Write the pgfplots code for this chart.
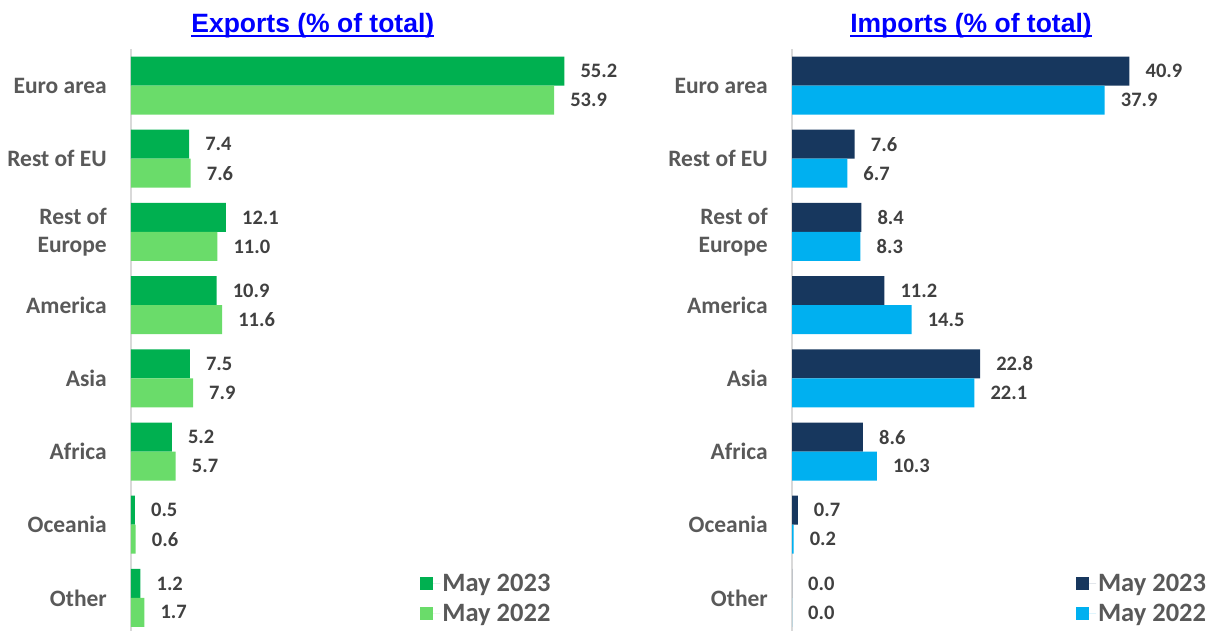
\documentclass[border=0pt]{standalone}
\usepackage{pgfplots}
\pgfplotsset{compat=1.18}
\usepackage{fontspec}
\setmainfont{Carlito}
\newfontfamily\arialf{Liberation Sans}
\definecolor{dgreen}{HTML}{00B050}
\definecolor{lgreen}{HTML}{6ADC6A}
\definecolor{navy}{HTML}{17375E}
\definecolor{cyan2}{HTML}{00B0F0}
\definecolor{lbl}{HTML}{595959}
\definecolor{val}{HTML}{404040}
\definecolor{ttl}{HTML}{0000FF}
\newcommand\ul[1]{\setbox0\hbox{#1}\rlap{\color{ttl}\rule[-4pt]{\wd0}{2.3pt}}\box0}
\pgfplotsset{
  common/.style={
    scale only axis, height=585.6pt,
    xbar, bar width=29pt,
    xmin=0, ymin=-0.5, ymax=7.5,
    axis x line=none, axis y line*=left,
    y axis line style={draw=black!15, line width=1.3pt, -},
    xtick=\empty,
    ytick={0,...,7},
    yticklabels={Other,Oceania,Africa,Asia,America,{Rest of\\Europe},Rest of EU,Euro area},
    major tick length=0pt,
    yticklabel style={font=\fontsize{23.5}{28}\selectfont\bfseries, text=lbl, align=right, inner sep=0pt, xshift=-24pt},
    clip=false,
    /pgf/number format/assume math mode=true,
    nodes near coords,
    nodes near coords style={font=\fontsize{20.5}{24}\selectfont\bfseries, text=val, anchor=west, inner sep=0pt, xshift=16pt,
      /pgf/number format/.cd, fixed, fixed zerofill, precision=1},
    legend style={draw=none, fill=none, font=\fontsize{26.5}{30}\selectfont\bfseries, text=lbl, inner sep=0pt,
      row sep=7pt, anchor=north west, legend cell align=left},
    legend image code/.code={\fill[##1,draw=none] (0pt,-6.5pt) rectangle (13pt,6.5pt); \path (0pt,0pt) -- (20pt,0pt);},
    title style={font=\arialf\fontsize{26.5}{30}\selectfont\bfseries, text=ttl, anchor=base},
  }
}
\begin{document}
\begin{tikzpicture}
\useasboundingbox (0,0) rectangle (1211pt,630pt);
\begin{axis}[common, at={(131pt,-4.5pt)}, anchor=south west, width=471pt, xmax=60,
  title={\ul{Exports (\% of total)}}, title style={at={(0.386,1)}, yshift=10pt},
  legend style={at={(0.614,0.107)}}]
\addplot[fill=dgreen, draw=none, bar shift=14.5pt] coordinates {(55.2,7) (7.4,6) (12.1,5) (10.9,4) (7.5,3) (5.2,2) (0.5,1) (1.2,0)};
\addplot[fill=lgreen, draw=none, bar shift=-14.5pt] coordinates {(53.9,7) (7.6,6) (11.0,5) (11.6,4) (7.9,3) (5.7,2) (0.6,1) (1.7,0)};
\legend{May 2023, May 2022}
\end{axis}
\begin{axis}[common, at={(792pt,-4.5pt)}, anchor=south west, width=412.5pt, xmax=50,
  title={\ul{Imports (\% of total)}}, title style={at={(0.434,1)}, yshift=10pt},
  legend style={at={(0.688,0.107)}}]
\addplot[fill=navy, draw=none, bar shift=14.5pt] coordinates {(40.9,7) (7.6,6) (8.4,5) (11.2,4) (22.8,3) (8.6,2) (0.7,1) (0.0,0)};
\addplot[fill=cyan2, draw=none, bar shift=-14.5pt] coordinates {(37.9,7) (6.7,6) (8.3,5) (14.5,4) (22.1,3) (10.3,2) (0.2,1) (0.0,0)};
\legend{May 2023, May 2022}
\end{axis}
\end{tikzpicture}
\end{document}
